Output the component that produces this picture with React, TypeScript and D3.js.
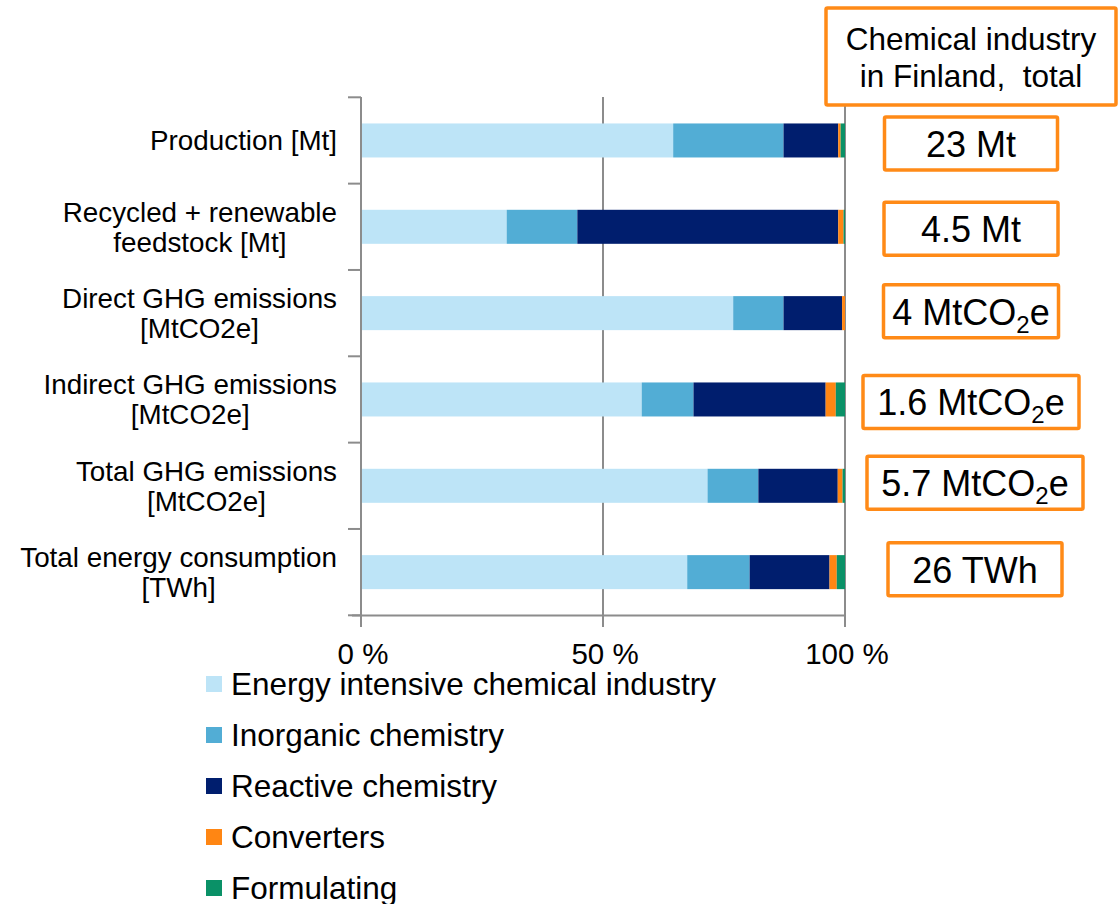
import React, { useEffect, useRef } from "react";
import * as d3 from "d3";

const categories = [
  ["Production [Mt]"],
  ["Recycled + renewable", "feedstock [Mt]"],
  ["Direct GHG emissions", "[MtCO2e]"],
  ["Indirect GHG emissions", "[MtCO2e]"],
  ["Total GHG emissions", "[MtCO2e]"],
  ["Total energy consumption", "[TWh]"],
];
const seriesNames = [
  "Energy intensive chemical industry",
  "Inorganic chemistry",
  "Reactive chemistry",
  "Converters",
  "Formulating",
];
const energyIntensive = [64.5, 30.1, 76.9, 58.0, 71.6, 67.4];
const inorganic = [22.8, 14.6, 10.4, 10.7, 10.5, 12.9];
const reactive = [11.3, 53.9, 12.1, 27.3, 16.4, 16.5];
const converters = [0.5, 1.1, 0.6, 2.1, 1.0, 1.5];
const formulating = [0.9, 0.3, 0.0, 1.9, 0.5, 1.7];
const xTicks = [0, 50, 100];
const totalsNumber = ["23", "4.5", "4", "1.6", "5.7", "26"];
const totalsUnit = ["Mt", "Mt", "MtCO2e", "MtCO2e", "MtCO2e", "TWh"];
const headerLines = ["Chemical industry", "in Finland,  total"];

const colors = ["#BDE4F7", "#52ADD5", "#001E6E", "#FF8613", "#0A9167"];
const boxWidths = [173, 174, 175, 216, 216, 174];
const boxCenterX = [971, 971, 971, 971, 975, 975];
const boxOffsetY = [3, 2, -2, 2.5, -3, -3];
const FONT = "'Liberation Sans', Arial, Helvetica, sans-serif";

export default function App() {
  const ref = useRef<SVGSVGElement | null>(null);
  useEffect(() => {
    const svg = d3.select(ref.current);
    svg.selectAll("*").remove();
    const x = d3.scaleLinear().domain([0, 100]).range([361, 845]);
    const keys = categories.map((_, i) => i);
    const y = d3
      .scaleBand<number>()
      .domain(keys)
      .range([97.3, 615.3])
      .paddingInner(0.606)
      .paddingOuter(0.303);
    const step = y.step();
    const rows = categories.map((c, i) => ({
      i,
      s0: energyIntensive[i],
      s1: inorganic[i],
      s2: reactive[i],
      s3: converters[i],
      s4: formulating[i],
    }));
    const stack = d3.stack<any>().keys(["s0", "s1", "s2", "s3", "s4"]);
    const stacked = stack(rows);
    const g = svg.append("g").attr("font-family", FONT);
    const gray = "#8C8C8C";

    // gridlines
    xTicks.slice(1).forEach((t) => {
      g.append("line")
        .attr("x1", x(t)).attr("x2", x(t))
        .attr("y1", 97).attr("y2", 627)
        .attr("stroke", gray).attr("stroke-width", 2);
    });

    // bars
    stacked.forEach((layer, li) => {
      g.append("g")
        .selectAll("rect")
        .data(layer)
        .join("rect")
        .attr("x", (d: any) => x(d[0]))
        .attr("width", (d: any) => Math.max(0, x(d[1]) - x(d[0])))
        .attr("y", (d: any) => y(d.data.i)!)
        .attr("height", y.bandwidth())
        .attr("fill", colors[li]);
    });

    // y axis
    g.append("line")
      .attr("x1", 361).attr("x2", 361).attr("y1", 97).attr("y2", 616)
      .attr("stroke", gray).attr("stroke-width", 2);
    d3.range(categories.length + 1).forEach((k) => {
      const yy = 97.3 + k * step;
      g.append("line")
        .attr("x1", 348).attr("x2", 361).attr("y1", yy).attr("y2", yy)
        .attr("stroke", gray).attr("stroke-width", 2);
    });
    // x axis
    g.append("line")
      .attr("x1", 352).attr("x2", 846).attr("y1", 615.5).attr("y2", 615.5)
      .attr("stroke", gray).attr("stroke-width", 2);
    xTicks.forEach((t) => {
      g.append("line")
        .attr("x1", x(t)).attr("x2", x(t)).attr("y1", 615).attr("y2", 627)
        .attr("stroke", gray).attr("stroke-width", 2);
      g.append("text")
        .attr("x", x(t) + 2).attr("y", 664)
        .attr("text-anchor", "middle")
        .attr("font-size", 29.5)
        .attr("fill", "#000")
        .text(`${t} %`);
    });

    // category labels (block right-aligned, lines centered)
    categories.forEach((lines, i) => {
      const cy = y(i)! + y.bandwidth() / 2;
      const tg = g.append("g");
      const texts = lines.map((ln, j) => {
        const base = lines.length === 1 ? cy + 10 : cy - 5 + j * 30;
        return tg.append("text")
          .attr("y", base)
          .attr("font-size", 27.8)
          .attr("fill", "#000")
          .attr("text-anchor", "middle")
          .text(ln);
      });
      const widths = texts.map((t) => (t.node() as SVGTextElement).getComputedTextLength());
      const maxW = Math.max(...widths);
      texts.forEach((t) => t.attr("x", 337 - maxW / 2));
    });

    // header box
    const orange = "#FF8A17";
    g.append("rect")
      .attr("x", 826).attr("y", 8).attr("width", 290).attr("height", 97)
      .attr("fill", "#fff").attr("stroke", orange).attr("stroke-width", 3.5).attr("rx", 1.5);
    headerLines.forEach((ln, j) => {
      g.append("text")
        .attr("x", 971).attr("y", 50 + j * 37)
        .attr("text-anchor", "middle")
        .attr("font-size", 31.5)
        .attr("fill", "#000")
        .style("white-space", "pre")
        .text(ln);
    });

    // total boxes
    totalsNumber.forEach((num, i) => {
      const cy = y(i)! + y.bandwidth() / 2 + boxOffsetY[i];
      const bw = boxWidths[i];
      const cx = boxCenterX[i];
      g.append("rect")
        .attr("x", cx - bw / 2).attr("y", cy - 26.5)
        .attr("width", bw).attr("height", 53)
        .attr("fill", "#fff").attr("stroke", orange).attr("stroke-width", 3.5).attr("rx", 1.5);
      const unit = totalsUnit[i];
      const t = g.append("text")
        .attr("x", cx).attr("y", cy + 13.5)
        .attr("text-anchor", "middle")
        .attr("font-size", 36)
        .attr("fill", "#000");
      if (unit.includes("CO2")) {
        t.append("tspan").text(`${num} MtCO`);
        t.append("tspan").attr("font-size", 24).attr("dy", 8).text("2");
        t.append("tspan").attr("dy", -8).text("e");
      } else {
        t.text(`${num} ${unit}`);
      }
    });

    // legend
    seriesNames.forEach((name, i) => {
      const top = 676 + i * 51;
      g.append("rect")
        .attr("x", 206).attr("y", top).attr("width", 16).attr("height", 16)
        .attr("fill", colors[i]);
      g.append("text")
        .attr("x", 231).attr("y", top + 19)
        .attr("font-size", 31.5)
        .attr("fill", "#000")
        .text(name);
    });
  }, []);
  return (
    <svg
      ref={ref}
      width={1120}
      height={904}
      style={{ position: "absolute", left: 0, top: 0, background: "#fff" }}
    />
  );
}
